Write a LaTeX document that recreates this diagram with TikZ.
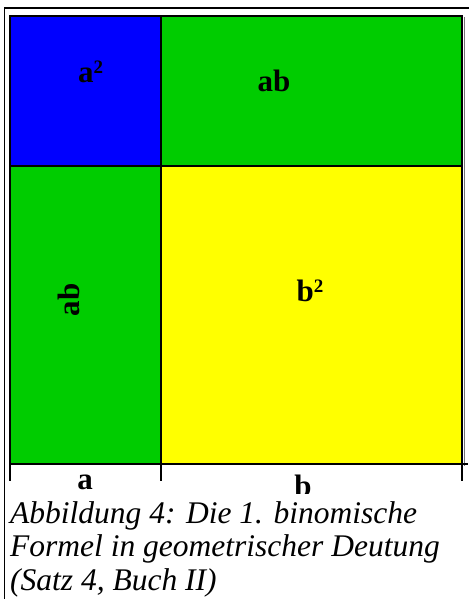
\documentclass[tikz,border=0pt]{standalone}
\usepackage{fontspec}
\setmainfont{Liberation Serif}
\usetikzlibrary{positioning}
\definecolor{quadblau}{HTML}{0000FF}
\definecolor{quadgruen}{HTML}{00CC00}
\definecolor{quadgelb}{HTML}{FFFF00}
\tikzset{
  rahmen/.style={draw=black,line width=1.2pt},
  feld/.style={draw=black,line width=1.6pt},
  schatten/.style={draw=black!55,line width=1.6pt},
  strich/.style={draw=black,line width=1.6pt},
  fl/.style={font=\fontsize{31}{33}\selectfont\bfseries,inner sep=0pt,anchor=base},
  unterschrift/.style={font=\fontsize{31.5}{33.5}\selectfont\itshape,align=left,
             inner xsep=0pt,inner ysep=7pt,anchor=north west,fill=white},
}
\newcommand{\hoch}[1]{\raisebox{9pt}{\fontsize{19}{19}\selectfont #1}}

\begin{document}
\begin{tikzpicture}[x=1pt,y=-1pt]
  \useasboundingbox (0,0) rectangle (469,599);
  \draw[rahmen] (4.5,599) -- (4.5,8) -- (469,8);
  % die vier Felder
  \fill[quadblau]  (10,16)  rectangle (161,166);
  \fill[quadgruen] (161,16) rectangle (462,166);
  \fill[quadgruen] (10,166) rectangle (161,464);
  \fill[quadgelb]  (161,166) rectangle (462,464);
  \draw[schatten] (464.5,17) -- (464.5,466);
  \draw[feld] (10,16) rectangle (462,464);
  \draw[feld] (161,16) -- (161,464);
  \draw[feld] (10,166) -- (462,166);
  % Strecken a und b
  \draw[strich] (10,464) -- (468,464);
  \draw[strich] (10,464) -- (10,481);
  \draw[strich] (161,464) -- (161,481);
  \draw[strich] (462,464) -- (462,481);
  \node[fl] (aa) at (90.5,83) {a\hoch{2}};
  \node[fl] (ab1) at (274,92) {ab};
  \node[fl,rotate=90] (ab2) at (79,300) {ab};
  \node[fl] (bb) at (310,301) {b\hoch{2}};
  \node[fl] (a) at (85,489) {a};
  \node[fl] (b) at (303,496) {b};
  \node[unterschrift] (cap) at (10,494)
    {Abbildung 4: Die 1. binomische\\Formel in geometrischer Deutung\\(Satz 4, Buch II)};
\end{tikzpicture}
\end{document}
